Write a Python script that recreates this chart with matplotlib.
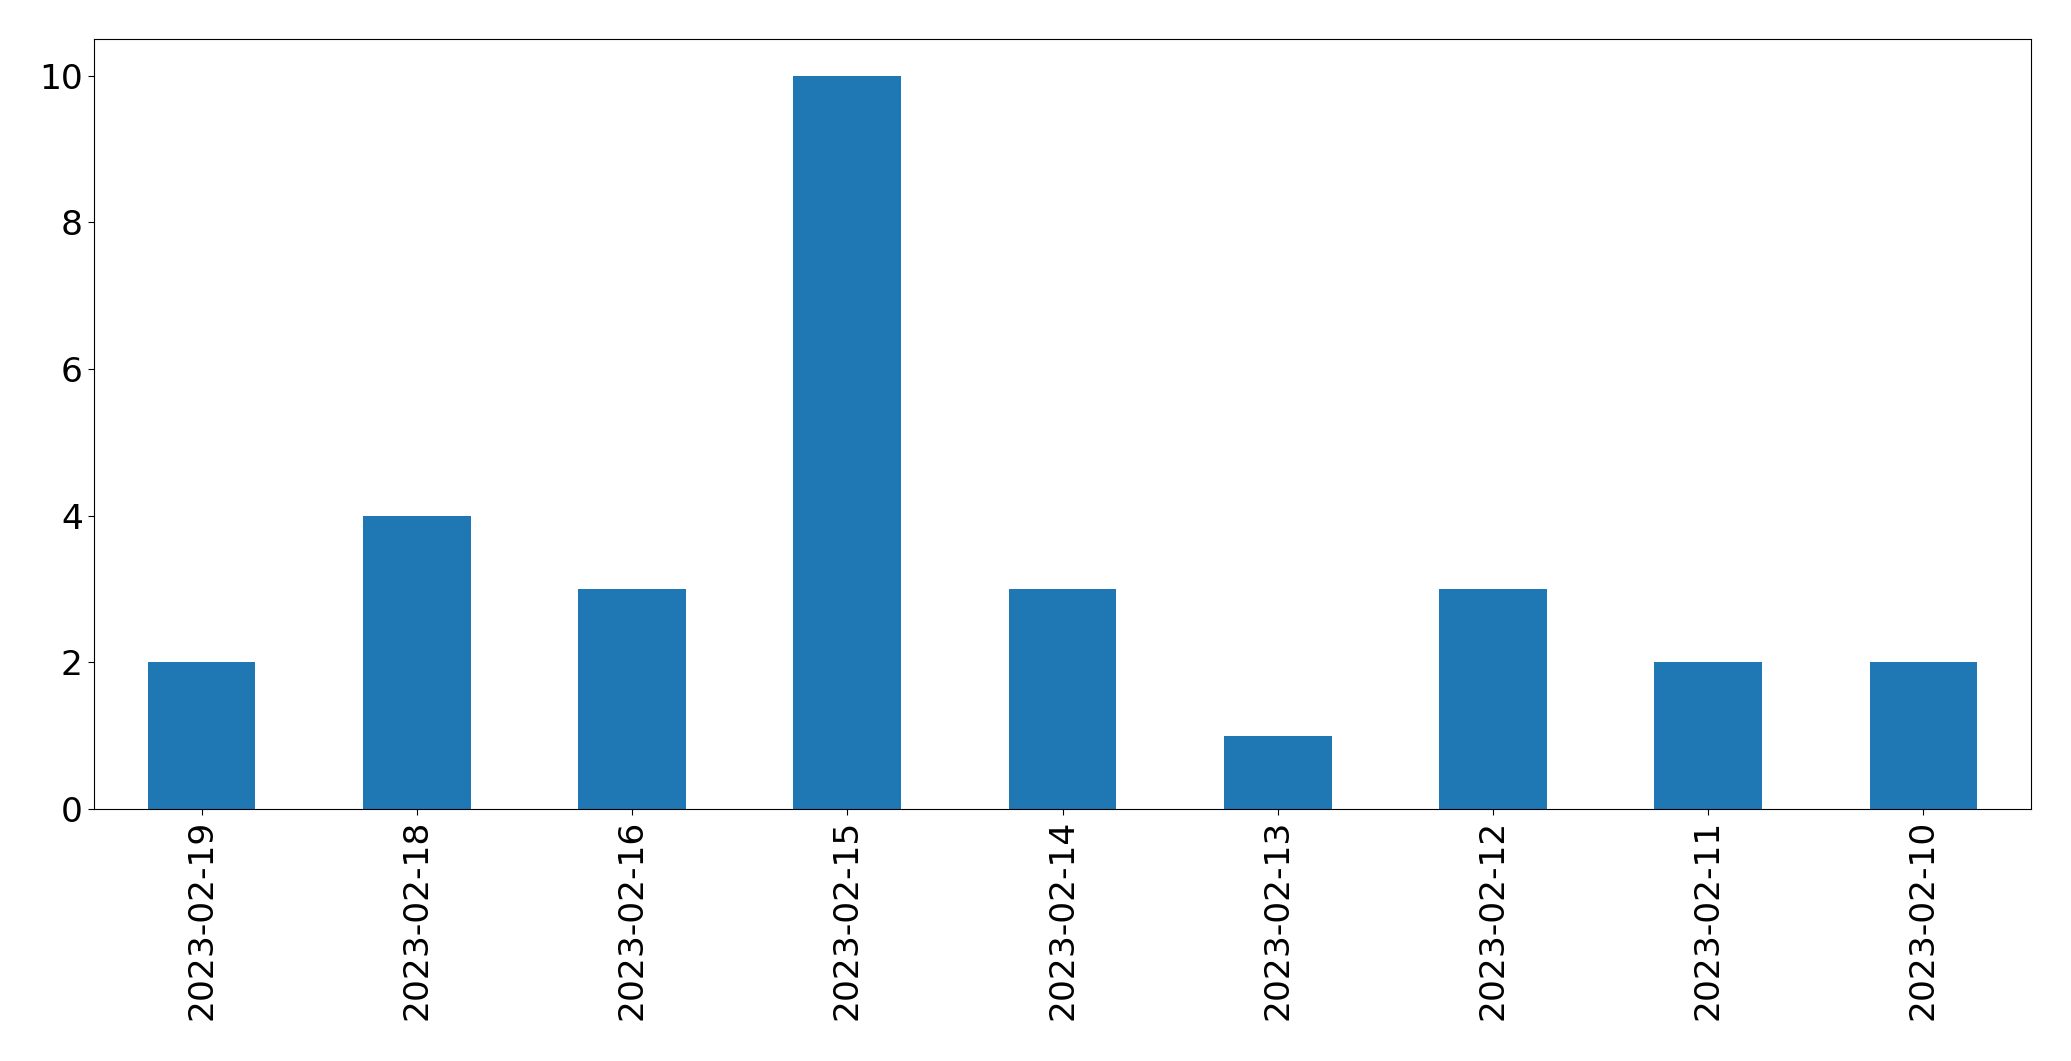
import matplotlib
matplotlib.use("Agg")
import matplotlib.pyplot as plt

dates = ["2023-02-19", "2023-02-18", "2023-02-16", "2023-02-15", "2023-02-14",
         "2023-02-13", "2023-02-12", "2023-02-11", "2023-02-10"]
counts = [2, 4, 3, 10, 3, 1, 3, 2, 2]

fig = plt.figure(figsize=(20.71, 10.61), dpi=100)
ax = fig.add_axes([0.0454, 0.2375, 0.9353, 0.7257])
x = list(range(len(dates)))
ax.bar(x, counts, width=0.5, color="#1f77b4")
ax.set_xlim(-0.5, len(dates) - 0.5)
ax.set_ylim(0, 10.5)
ax.set_xticks(x)
ax.set_xticklabels(dates, rotation=90)
ax.set_yticks([0, 2, 4, 6, 8, 10])
ax.tick_params(labelsize=24.8, length=4.5)
fig.savefig("out.png", dpi=100)
